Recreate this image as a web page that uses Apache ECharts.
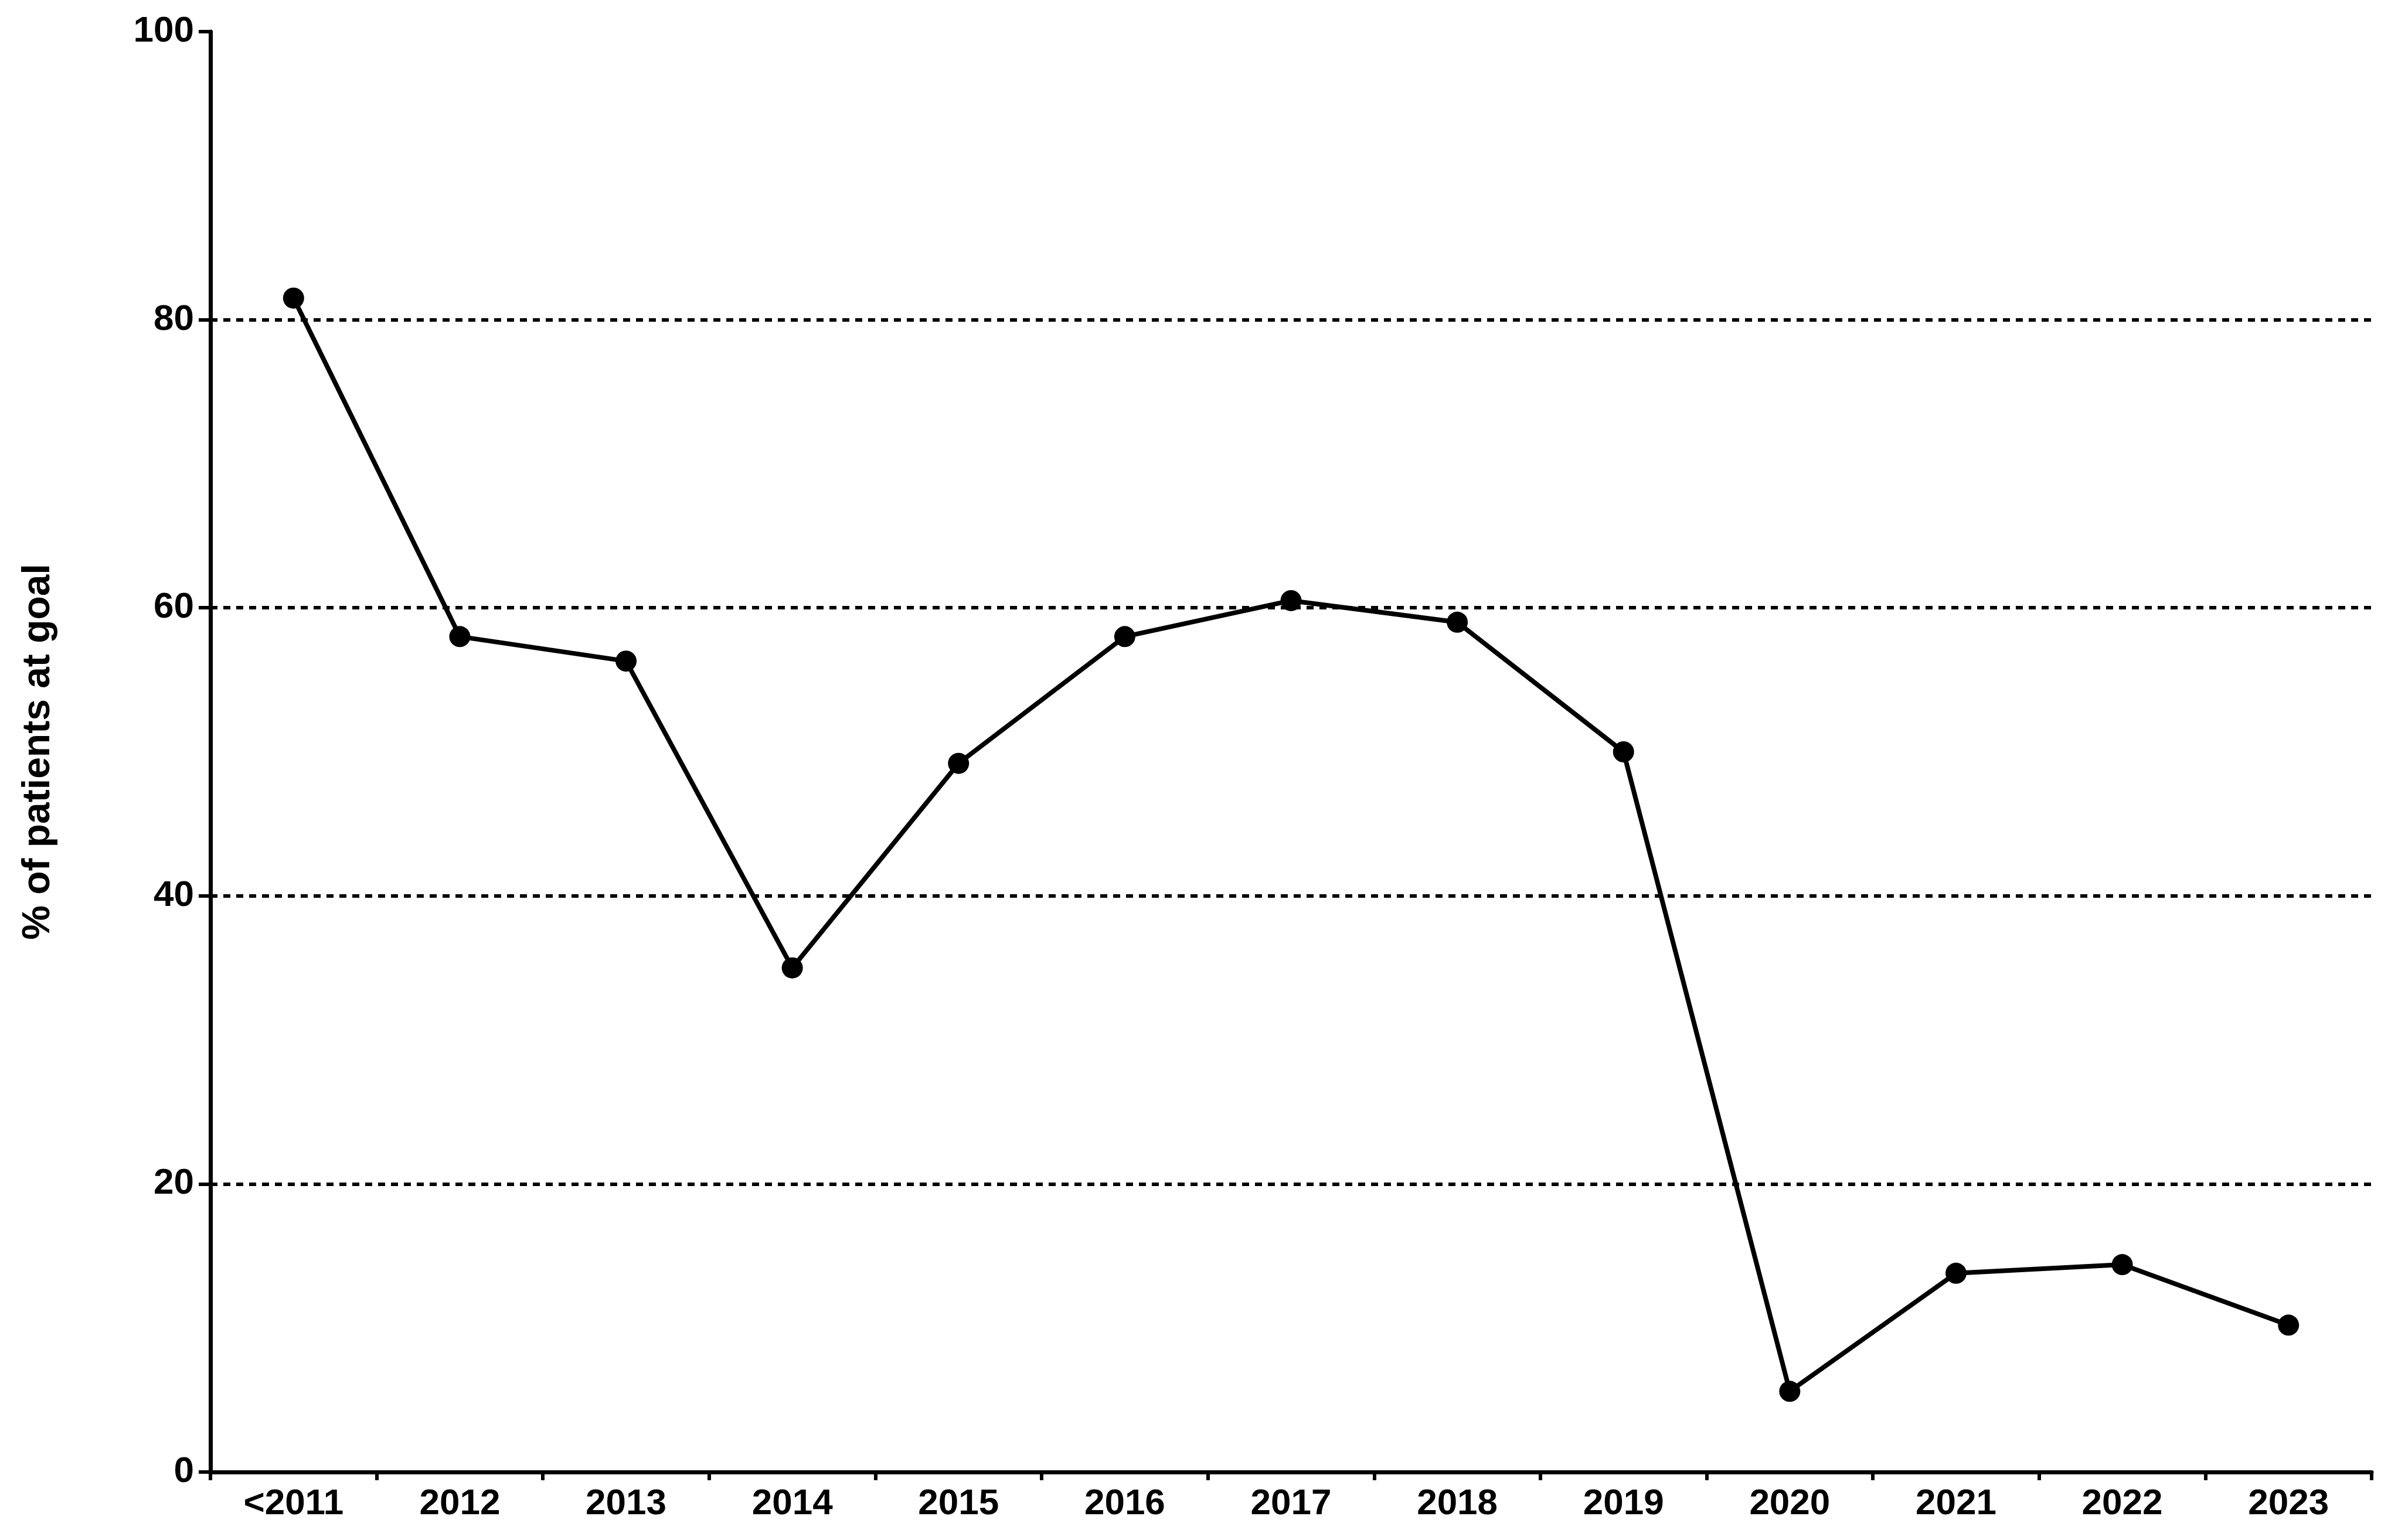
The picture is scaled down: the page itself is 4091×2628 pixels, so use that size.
<!DOCTYPE html>
<html>
<head>
<meta charset="utf-8">
<script src="https://cdn.jsdelivr.net/npm/echarts@6/dist/echarts.min.js"></script>
<style>html,body{margin:0;background:#fff}#chart{width:4091px;height:2628px}</style>
</head>
<body>
<div id="chart"></div>
<script>
var years = ['<2011','2012','2013','2014','2015','2016','2017','2018','2019','2020','2021','2022','2023'];
var pctAtGoal = [81.5, 58, 56.3, 35, 49.2, 58, 60.5, 59, 50, 5.6, 13.8, 14.4, 10.2];
var refLines = [20, 40, 60, 80];

var font = 'Liberation Sans';
var option = {
    backgroundColor: '#fff',
    animation: false,
    grid: { left: 359, top: 54, right: 45, bottom: 116 },
    xAxis: {
        type: 'category',
        data: years,
        boundaryGap: true,
        axisLine: { lineStyle: { color: '#000', width: 7 } },
        axisTick: { show: true, length: 14, lineStyle: { color: '#000', width: 6 } },
        axisLabel: { color: '#000', fontFamily: font, fontWeight: 'bold', fontSize: 62, margin: 24 }
    },
    yAxis: {
        type: 'value',
        min: 0, max: 100, interval: 20,
        name: '% of patients at goal',
        nameLocation: 'center',
        nameGap: 260,
        nameTextStyle: { color: '#000', fontFamily: font, fontWeight: 'bold', fontSize: 66 },
        axisLine: { show: true, lineStyle: { color: '#000', width: 7 } },
        axisTick: { show: true, length: 20, lineStyle: { color: '#000', width: 6 } },
        axisLabel: { color: '#000', fontFamily: font, fontWeight: 'bold', fontSize: 62, margin: 28 },
        splitLine: { show: false }
    },
    series: [{
        type: 'line',
        data: pctAtGoal,
        symbol: 'circle',
        symbolSize: 36,
        itemStyle: { color: '#000' },
        lineStyle: { color: '#000', width: 8 },
        markLine: {
            silent: true,
            symbol: 'none',
            label: { show: false },
            lineStyle: { color: '#000', type: [12, 10], width: 6 },
            data: refLines.map(function (v) { return { yAxis: v }; })
        }
    }]
};
echarts.init(document.getElementById('chart')).setOption(option);
</script>
</body>
</html>
